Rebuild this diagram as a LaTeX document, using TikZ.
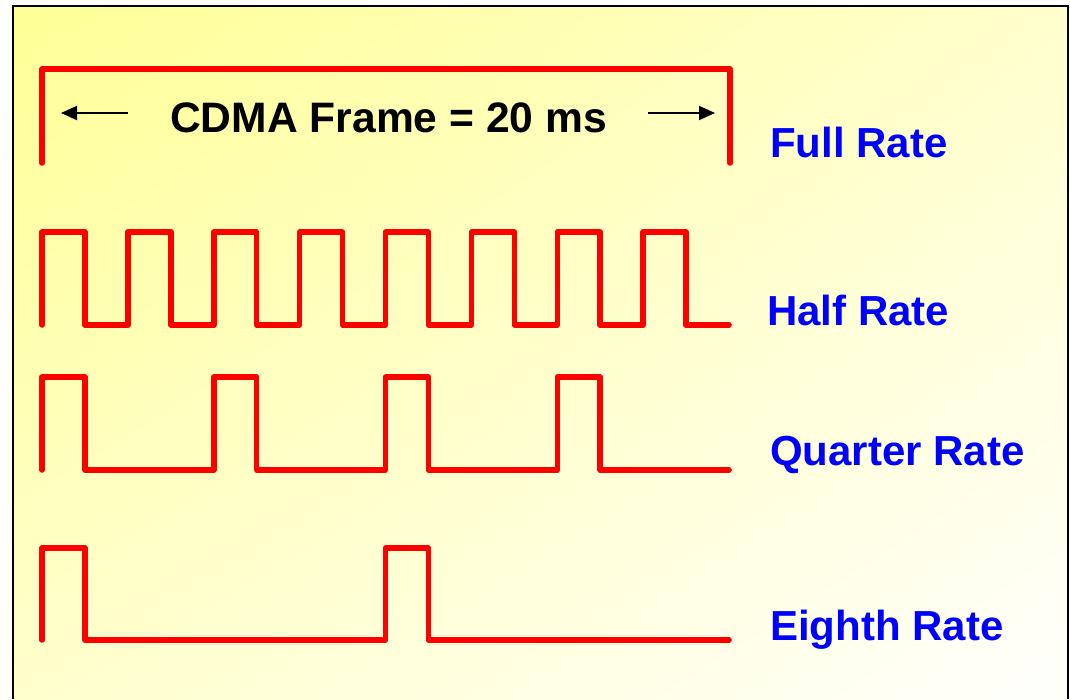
\documentclass[tikz,border=0pt]{standalone}
\usepackage{fontspec}
\setmainfont{Liberation Sans}
\usetikzlibrary{arrows.meta, shadings}

\definecolor{bgtop}{RGB}{255,255,150}
\definecolor{bgmid}{RGB}{255,255,205}
\definecolor{bgend}{RGB}{255,255,252}

\begin{document}
\begin{tikzpicture}[
    x=1pt, y=-1pt,
    wave/.style={draw=red, line width=5.5pt, line cap=round, line join=round},
    lbl/.style={anchor=base west, inner sep=0pt, font=\fontsize{42}{48}\selectfont\bfseries, text=blue},
    arr/.style={-{Triangle[length=16pt, width=14pt]}, line width=2pt}
]

\useasboundingbox (0,0) rectangle (1070,699);
\fill[white] (0,0) rectangle (1070,699);
\shade[upper left=bgtop, upper right=bgmid, lower left=bgmid, lower right=bgend]
    (13,6) rectangle (1068,699);
\draw[line width=1.5pt] (13,699) -- (13,6) -- (1068,6) -- (1068,699);

% frame length
\node[anchor=base west, inner sep=0pt, font=\fontsize{42.6}{48}\selectfont\bfseries] (frame) at (170,132) {CDMA Frame = 20 ms};
\coordinate (ltail) at (128,113);
\coordinate (ltip)  at (61,113);
\coordinate (rtail) at (648,113);
\coordinate (rtip)  at (715,113);
\draw[arr] (ltail) -- (ltip);
\draw[arr] (rtail) -- (rtip);

% waveforms
\draw[wave] (42,163) -- (42,69) -- (730,69) -- (730,163);
\draw[wave] (42,325) foreach \i in {1,...,8} { -- ++(0,-93) -- ++(42.94,0) -- ++(0,93) -- ++(42.94,0) };
\draw[wave] (42,470) foreach \i in {1,...,4} { -- ++(0,-93) -- ++(42.94,0) -- ++(0,93) -- ++(128.82,0) };
\draw[wave] (42,640) foreach \i in {1,2} { -- ++(0,-92) -- ++(42.94,0) -- ++(0,92) -- ++(300.58,0) };

\node[lbl] (full)    at (770,157) {Full Rate};
\node[lbl] (half)    at (767,325) {Half Rate};
\node[lbl] (quarter) at (770,465) {Quarter Rate};
\node[lbl] (eighth)  at (770,640) {Eighth Rate};

\end{tikzpicture}
\end{document}
